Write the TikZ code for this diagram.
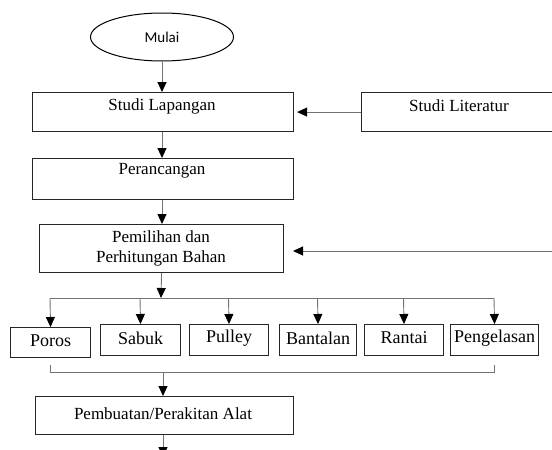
\documentclass[tikz,border=0pt]{standalone}
\usepackage{fontspec}
\setmainfont{Liberation Serif}
\newfontfamily\calibfont{Carlito}
\usetikzlibrary{shapes.geometric,arrows.meta}
\begin{document}
\begin{tikzpicture}[x=1pt,y=-1pt,
  box/.style={draw=black!85,line width=1.1pt,rectangle,inner sep=0pt,anchor=north west},
  lbl/.style={font=\fontsize{17}{20}\selectfont,inner sep=0pt,align=center},
  slbl/.style={font=\fontsize{18}{21}\selectfont,inner sep=0pt},
  conn/.style={draw=black!55,line width=0.9pt,-{Triangle[width=9pt,length=10pt,color=black]}},
  plain/.style={draw=black!55,line width=0.9pt},
  ell/.style={draw=black,line width=1pt,ellipse,minimum width=143pt,minimum height=48pt,inner sep=0pt,font=\calibfont\fontsize{15}{18}\selectfont}
]
\useasboundingbox[fill=white] (0,0) rectangle (552,450);

% start
\node[ell] (start) at (162,37) {Mulai};

% Studi Lapangan / Literatur
\node[box,minimum width=261pt,minimum height=39pt] (sl) at (32,92) {};
\node[lbl] (slt) at (162,106) {Studi Lapangan};
\node[box,minimum width=200pt,minimum height=39pt] (lit) at (361,92) {};
\node[lbl] (litt) at (459,106) {Studi Literatur};

% Perancangan
\node[box,minimum width=261pt,minimum height=41pt] (pr) at (32,158) {};
\node[lbl] (prt) at (162,171) {Perancangan};

% Pemilihan
\node[box,minimum width=244pt,minimum height=48pt] (pm) at (39,224) {};
\node[lbl] (pmt) at (161,248) {Pemilihan dan\\Perhitungan Bahan};

% component boxes
\node[box,minimum width=80pt,minimum height=30pt] (poros) at (10,327) {};
\node[slbl] at ([yshift=2pt]poros.center) {Poros};
\node[box,minimum width=80pt,minimum height=31pt] (sabuk) at (100,324) {};
\node[slbl] at ([yshift=2pt]sabuk.center) {Sabuk};
\node[box,minimum width=79pt,minimum height=31pt] (pulley) at (189,324) {};
\node[slbl] at ([yshift=2pt]pulley.center) {Pulley};
\node[box,minimum width=77pt,minimum height=31pt] (bant) at (279,324) {};
\node[slbl] at ([yshift=2pt]bant.center) {Bantalan};
\node[box,minimum width=79pt,minimum height=31pt] (rant) at (364,324) {};
\node[slbl] at ([yshift=2pt]rant.center) {Rantai};
\node[box,minimum width=88pt,minimum height=31pt] (peng) at (450,324) {};
\node[slbl] at ([yshift=2pt]peng.center) {Pengelasan};

% Pembuatan
\node[box,minimum width=258pt,minimum height=38pt] (pb) at (35,396) {};
\node[lbl] (pbt) at (163,414) {Pembuatan/Perakitan Alat};

% coordinates
\coordinate (rin) at (553,251);
\coordinate (rtip) at (293,251);
\coordinate (bus) at (161,298);
\coordinate (b1) at (50,298);
\coordinate (b2) at (140,298);
\coordinate (b3) at (228.5,298);
\coordinate (b4) at (317.5,298);
\coordinate (b5) at (403.5,298);
\coordinate (b6) at (494,298);
\coordinate (k1) at (50,365);
\coordinate (k2) at (50,372);
\coordinate (k3) at (494,372);
\coordinate (k4) at (494,365);
\coordinate (jn) at (163,372);
\coordinate (fin) at (163,457);

% connectors
\draw[conn] (start.south) -- (start.south |- sl.north);
\draw[conn] (lit.west) -- ([xshift=3pt]sl.east);
\draw[conn] (sl.south -| start.south) -- (start.south |- pr.north);
\draw[conn] (pr.south -| start.south) -- (start.south |- pm.north);
\draw[conn] (rin) -- (rtip);
\draw[conn] (pm.south) -- (bus);
\draw[plain] (b1) -- (b6);
\draw[conn] (b1) -- (poros.north);
\draw[conn] (b2) -- (sabuk.north);
\draw[conn] (b3) -- (pulley.north);
\draw[conn] (b4) -- (bant.north);
\draw[conn] (b5) -- (rant.north);
\draw[conn] (b6) -- (peng.north);
\draw[plain] (k1) -- (k2) -- (k3) -- (k4);
\draw[conn] (jn) -- (jn |- pb.north);
\draw[conn] (pb.south -| jn) -- (fin);
\end{tikzpicture}
\end{document}
